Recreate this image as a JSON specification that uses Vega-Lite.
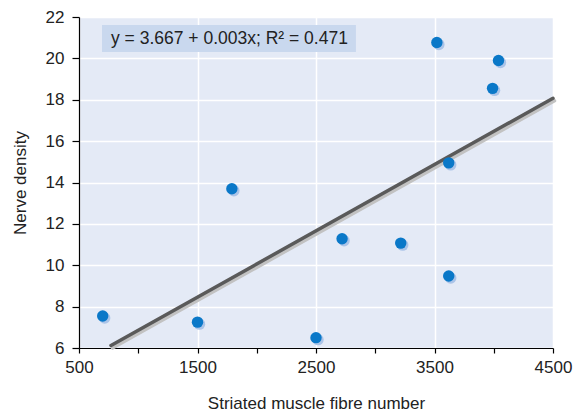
{
  "$schema": "https://vega.github.io/schema/vega-lite/v6.json",
  "width": 474,
  "height": 331,
  "autosize": {"type": "none"},
  "padding": {"left": 79, "top": 17, "right": 30, "bottom": 69},
  "background": "white",
  "config": {
    "view": {"fill": "#e4eaf6", "stroke": null},
    "font": "Liberation Sans",
    "axis": {
      "labelFont": "Liberation Sans",
      "labelFontSize": 17,
      "labelColor": "#222222",
      "titleFont": "Liberation Sans",
      "titleFontSize": 17,
      "titleFontWeight": "normal",
      "titleColor": "#222222",
      "domainColor": "#000000",
      "domainWidth": 1.2,
      "tickColor": "#000000",
      "tickWidth": 1.2,
      "gridColor": "#ffffff",
      "gridWidth": 1.5
    }
  },
  "datasets": {
    "points": [
      {"fibres": 700, "density": 7.55},
      {"fibres": 1500, "density": 7.25},
      {"fibres": 1790, "density": 13.7},
      {"fibres": 2500, "density": 6.5},
      {"fibres": 2720, "density": 11.28},
      {"fibres": 3215, "density": 11.07},
      {"fibres": 3520, "density": 20.77},
      {"fibres": 3620, "density": 14.95},
      {"fibres": 3620, "density": 9.48},
      {"fibres": 3990, "density": 18.55},
      {"fibres": 4040, "density": 19.9}
    ],
    "fit": [
      {"fibres": 770, "density": 6.12},
      {"fibres": 4500, "density": 18.07}
    ],
    "note": [
      {"x": 694, "x2": 2837, "y": 21.61, "y2": 20.31, "tx": 770, "ty": 20.96, "label": "y = 3.667 + 0.003x; R² = 0.471"}
    ]
  },
  "layer": [
    {
      "data": {"name": "note"},
      "mark": {"type": "rect", "fill": "#c9d8ee"},
      "encoding": {
        "x": {"field": "x", "type": "quantitative", "scale": {"domain": [500, 4500], "nice": false, "zero": false},
          "axis": {
            "title": "Striated muscle fibre number",
            "titlePadding": 20,
            "values": [500, 750, 1000, 1250, 1500, 1750, 2000, 2250, 2500, 2750, 3000, 3250, 3500, 3750, 4000, 4250, 4500],
            "labelExpr": "datum.value % 1000 == 500 ? datum.label : ''",
            "format": "d",
            "tickSize": 5,
            "labelPadding": 6,
            "labelFlush": false,
            "labelOverlap": false,
            "gridOpacity": {"condition": {"test": "datum.value % 1000 == 500", "value": 1}, "value": 0}
          }},
        "x2": {"field": "x2"},
        "y": {"field": "y", "type": "quantitative", "scale": {"domain": [6, 22], "nice": false, "zero": false},
          "axis": {
            "title": "Nerve density",
            "titlePadding": 16,
            "values": [6, 7, 8, 9, 10, 11, 12, 13, 14, 15, 16, 17, 18, 19, 20, 21, 22],
            "labelExpr": "datum.value % 2 == 0 ? datum.label : ''",
            "tickSize": 7,
            "labelPadding": 8,
            "labelFlush": false,
            "labelOverlap": false,
            "gridOpacity": {"condition": {"test": "datum.value % 2 == 0", "value": 1}, "value": 0}
          }},
        "y2": {"field": "y2"}
      }
    },
    {
      "data": {"name": "note"},
      "mark": {"type": "text", "align": "left", "baseline": "middle", "fontSize": 17.5, "font": "Liberation Sans", "color": "#222222"},
      "encoding": {
        "x": {"field": "tx", "type": "quantitative"},
        "y": {"field": "ty", "type": "quantitative"},
        "text": {"field": "label"}
      }
    },
    {
      "data": {"name": "fit"},
      "mark": {"type": "line", "color": "#c2c2c2", "strokeWidth": 3.5, "strokeCap": "round", "xOffset": 1.5, "yOffset": 2.5, "clip": false},
      "encoding": {
        "x": {"field": "fibres", "type": "quantitative"},
        "y": {"field": "density", "type": "quantitative"}
      }
    },
    {
      "data": {"name": "fit"},
      "mark": {"type": "line", "color": "#5a5a5a", "strokeWidth": 3.5, "strokeCap": "round", "clip": false},
      "encoding": {
        "x": {"field": "fibres", "type": "quantitative"},
        "y": {"field": "density", "type": "quantitative"}
      }
    },
    {
      "data": {"name": "points"},
      "mark": {"type": "circle", "color": "#abc4e8", "opacity": 1, "size": 130, "xOffset": 2, "yOffset": 2},
      "encoding": {
        "x": {"field": "fibres", "type": "quantitative"},
        "y": {"field": "density", "type": "quantitative"}
      }
    },
    {
      "data": {"name": "points"},
      "mark": {"type": "circle", "color": "#0a78c8", "opacity": 1, "size": 130},
      "encoding": {
        "x": {"field": "fibres", "type": "quantitative"},
        "y": {"field": "density", "type": "quantitative"}
      }
    }
  ]
}
